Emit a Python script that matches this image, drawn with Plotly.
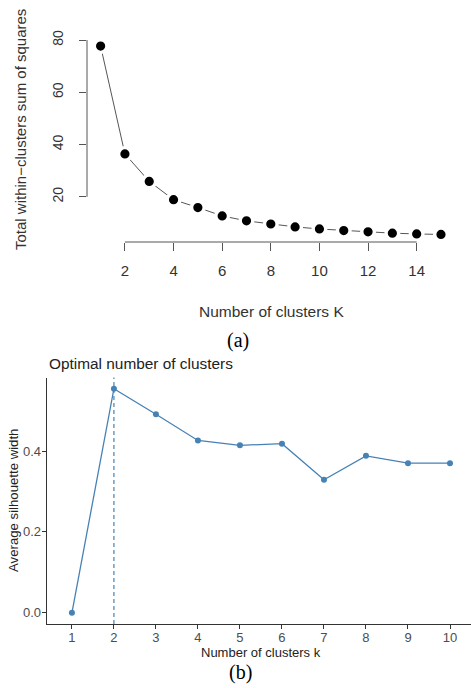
import plotly.graph_objects as go

# ---- data (a): elbow method ----
k_a = list(range(1, 16))
wss = [77.7, 36.4, 25.9, 18.9, 15.9, 12.7, 10.8, 9.6, 8.5, 7.7, 7.1, 6.6, 6.1, 5.8, 5.6]
xticks_a = [2, 4, 6, 8, 10, 12, 14]
yticks_a = [20, 40, 60, 80]

# ---- data (b): silhouette ----
k_b = list(range(1, 11))
sil = [0.0, 0.554, 0.491, 0.426, 0.414, 0.418, 0.329, 0.388, 0.370, 0.370]
yticks_b = [0.0, 0.2, 0.4]
yticklabels_b = ["0.0", "0.2", "0.4"]

W, H = 471, 688
SANS = "Liberation Sans, Arial, sans-serif"
SERIF = "Liberation Serif, Times New Roman, serif"
BLUE = "#4682B4"

def px_x(p):
    return p / W

def px_y(p):
    return 1 - p / H

def r_range(v, f=0.04):
    lo, hi = min(v), max(v)
    d = hi - lo
    return [lo - f * d, hi + f * d]

fig = go.Figure()

# (a) line with R type="b" gaps (white ring around points)
fig.add_trace(go.Scatter(
    x=k_a, y=wss, mode="lines+markers",
    line=dict(color="#555555", width=1),
    marker=dict(color="black", size=12.6, line=dict(color="white", width=3.4)),
    xaxis="x", yaxis="y", showlegend=False, hoverinfo="x+y"))

# (b) silhouette line
fig.add_trace(go.Scatter(
    x=k_b, y=sil, mode="lines+markers",
    line=dict(color=BLUE, width=1.3),
    marker=dict(color=BLUE, size=6),
    xaxis="x2", yaxis="y2", showlegend=False, hoverinfo="x+y"))

best_k = k_b[sil.index(max(sil))]

shapes = [
    dict(type="line", xref="x domain", yref="y", x0=0, x1=0,
         y0=min(yticks_a), y1=max(yticks_a), line=dict(color="#555555", width=1)),
    dict(type="line", xref="x", yref="y domain", x0=min(xticks_a), x1=max(xticks_a),
         y0=0, y1=0, line=dict(color="#555555", width=1)),
    dict(type="line", xref="x2", yref="y2 domain", x0=best_k, x1=best_k, y0=0, y1=1,
         line=dict(color=BLUE, width=1.2, dash="4px,3px")),
]

def ann(text, x, y, size, family=SANS, color="#333333", angle=0, xanchor="center"):
    return dict(text=text, x=px_x(x), y=px_y(y), xref="paper", yref="paper",
                showarrow=False, textangle=angle, xanchor=xanchor, yanchor="middle",
                font=dict(family=family, size=size, color=color))

annotations = [
    ann("Total within\u2212clusters sum of squares", 20, 130, 15, angle=-90),
    ann("Number of clusters K", 271, 312, 15.5),
    ann("(a)", 238, 340, 20, family=SERIF, color="black"),
    ann("Optimal number of clusters", 47, 363, 15.4, color="#222222", xanchor="left"),
    ann("Average silhouette width", 13, 501, 13.2, color="#222222", angle=-90),
    ann("Number of clusters k", 261, 652, 13, color="#222222"),
    ann("(b)", 240, 672, 20, family=SERIF, color="black"),
]

ya_lo, ya_hi = r_range(wss, 0.04)
xa_lo, xa_hi = r_range(k_a, 0.04)
yb_lo, yb_hi = r_range(sil, 0.05)

fig.update_layout(
    width=W, height=H, margin=dict(l=0, r=0, t=0, b=0, autoexpand=False),
    paper_bgcolor="white", plot_bgcolor="white",
    font=dict(family=SANS),
    shapes=shapes, annotations=annotations,
    xaxis=dict(domain=[px_x(87), px_x(454.6)], range=[xa_lo, xa_hi], automargin=False,
               anchor="y", tickmode="array", tickvals=xticks_a,
               ticks="outside", ticklen=8, tickcolor="#555555", tickwidth=1,
               showline=False, showgrid=False, zeroline=False,
               tickfont=dict(family=SANS, size=15, color="#333333"),
               ticklabelstandoff=7),
    yaxis=dict(domain=[px_y(242), px_y(38.5)], range=[ya_lo, ya_hi], automargin=False,
               anchor="x", tickmode="array", tickvals=yticks_a,
               ticks="outside", ticklen=7, tickcolor="#555555", tickwidth=1,
               showline=False, showgrid=False, zeroline=False, tickangle=-90,
               tickfont=dict(family=SANS, size=14, color="#333333"),
               ticklabelstandoff=10),
    xaxis2=dict(domain=[px_x(46.7), 1], range=[0.4, 10.5], automargin=False,
                anchor="y2", tickmode="array", tickvals=k_b,
                ticks="outside", ticklen=4, tickcolor="#333333", tickwidth=1,
                showline=True, linecolor="#333333", linewidth=1.2,
                showgrid=False, zeroline=False,
                tickfont=dict(family=SANS, size=13, color="#4d4d4d"),
                ticklabelstandoff=-3),
    yaxis2=dict(domain=[px_y(624), px_y(377.5)], range=[yb_lo, yb_hi], automargin=False,
                anchor="x2", tickmode="array", tickvals=yticks_b, ticktext=yticklabels_b,
                ticks="outside", ticklen=4, tickcolor="#333333", tickwidth=1,
                showline=True, linecolor="#333333", linewidth=1.2,
                showgrid=False, zeroline=False,
                tickfont=dict(family=SANS, size=13, color="#4d4d4d"),
                ticklabelstandoff=-2),
)

fig.write_html("out.html", config={"displayModeBar": False},
               post_script="document.body.style.margin='0px';")
